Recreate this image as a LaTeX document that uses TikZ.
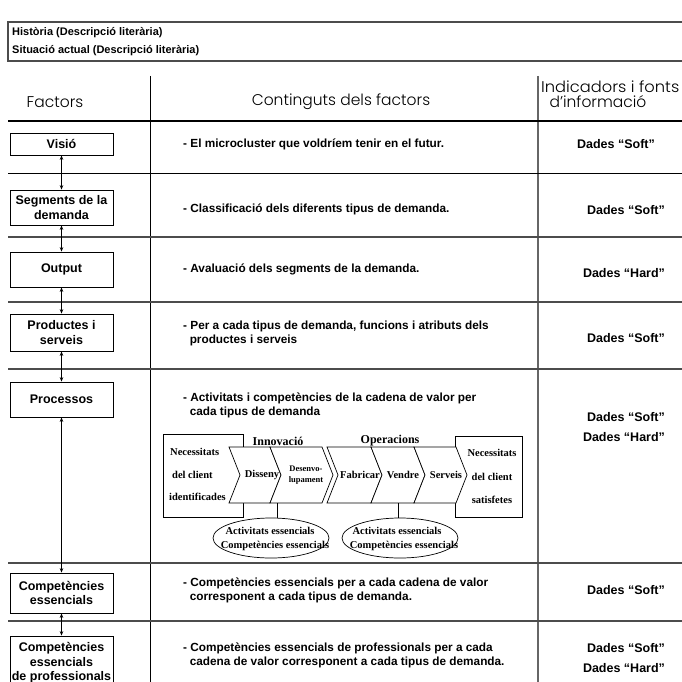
\documentclass[tikz,border=0pt]{standalone}
\usepackage{fontspec}
\setmainfont{Liberation Sans}
\newfontfamily\chainfont{Liberation Serif}
\newfontfamily\hdrfont{Poppins Light}
\usetikzlibrary{arrows.meta,shapes.geometric}
\begin{document}
\begin{tikzpicture}[x=1pt,y=-1pt,
  sepline/.style={line width=1.3pt, draw=black!70},
  fbox/.style={draw, line width=0.8pt, minimum width=103pt, align=center,
    font=\bfseries\fontsize{12.5}{14.5}\selectfont, inner sep=1pt},
  content/.style={anchor=west, align=left, inner sep=0pt,
    font=\bfseries\fontsize{11.8}{14}\selectfont},
  dades/.style={inner sep=0pt, font=\bfseries\fontsize{12.5}{14}\selectfont},
  hdr/.style={inner sep=0pt, font=\hdrfont\fontsize{15.5}{17}\selectfont},
  dar/.style={{Stealth[length=4.5pt,width=3.5pt]}-{Stealth[length=4.5pt,width=3.5pt]}, line width=0.6pt},
  chev/.style={draw, fill=white, line width=0.7pt},
  cl/.style={inner sep=0pt, font=\chainfont\bfseries\fontsize{10.5}{12}\selectfont},
  cls/.style={inner sep=0pt, align=center, font=\chainfont\bfseries\fontsize{8.5}{11}\selectfont},
  grp/.style={inner sep=0pt, font=\chainfont\bfseries\fontsize{12}{14}\selectfont},
  ell/.style={draw, ellipse, line width=0.7pt, minimum width=116pt, minimum height=40pt, inner sep=0pt}
]
\useasboundingbox (0,0) rectangle (682,682);

% header box
\draw[line width=1.2pt, draw=black!70] (8,22) rectangle (700,61);
\node[anchor=west, inner sep=0pt, font=\bfseries\fontsize{11}{13}\selectfont] (hist) at (12,33) {Història (Descripció literària)};
\node[anchor=west, inner sep=0pt, font=\bfseries\fontsize{11}{13}\selectfont] (sit) at (12,51) {Situació actual (Descripció literària)};

% column lines
\draw[line width=0.8pt] (150,76) -- (150,690);
\draw[line width=1.3pt, draw=black!60] (538,76) -- (538,690);
\draw[line width=2.6pt] (8,121) -- (690,121);

% column headers
\node[hdr] (hfac) at (55,102) {Factors};
\node[hdr] (hcon) at (341,102) {Continguts dels factors};
\node[hdr, anchor=west] (hind) at (541,87) {\scalebox{1.05}[1]{Indicadors i fonts}};
\node[hdr] (hinf) at (598,102) {d’informació};

% row separators
\draw[line width=0.9pt] (8,173) -- (690,173);
\foreach \yy in {237,302,369,563,621}
  \draw[sepline] (8,\yy) -- (690,\yy);

% factor boxes
\node[fbox, minimum height=22pt] (visio) at (61.5,144) {Visió};
\node[fbox, minimum height=35pt] (seg) at (61.5,207.5) {Segments de la\\demanda};
\node[fbox, minimum height=35pt] (out) at (61.5,269.5) {Output};
\node[fbox, minimum height=37pt] (prod) at (61.5,332.5) {Productes i\\serveis};
\node[fbox, minimum height=35pt] (proc) at (61.5,399.5) {Processos};
\node[fbox, minimum height=40pt] (comp) at (61.5,593) {Competències\\essencials};
\node[fbox, minimum height=54pt] (prof) at (61.5,663) {Competències\\essencials\\de professionals};

\draw[dar] (visio) -- (seg);
\draw[dar] (seg) -- (out);
\draw[dar] (out) -- (prod);
\draw[dar] (prod) -- (proc);
\draw[dar] (proc) -- (comp);
\draw[dar] (comp) -- (prof);

% contents
\node[content] (t1) at (183,144) {- El microcluster que voldríem tenir en el futur.};
\node[content] (t2) at (183,209) {- Classificació dels diferents tipus de demanda.};
\node[content] (t3) at (183,269) {- Avaluació dels segments de la demanda.};
\node[content] (t4) at (183,333) {- Per a cada tipus de demanda, funcions i atributs dels\\\ \ productes i serveis};
\node[content] (t5) at (183,405) {- Activitats i competències de la cadena de valor per\\\ \ cada tipus de demanda};
\node[content] (t6) at (183,590) {- Competències essencials per a cada cadena de valor\\\ \ corresponent a cada tipus de demanda.};
\node[content] (t7) at (183,655) {- Competències essencials de professionals per a cada\\\ \ cadena de valor corresponent a cada tipus de demanda.};

% dades
\node[dades] (d1) at (616,144) {Dades “Soft”};
\node[dades] (d2) at (626,210) {Dades “Soft”};
\node[dades] (d3) at (624,273) {Dades “Hard”};
\node[dades] (d4) at (626,338) {Dades “Soft”};
\node[dades] (d5) at (626,417) {Dades “Soft”};
\node[dades] (d6) at (624,437) {Dades “Hard”};
\node[dades] (d7) at (626,590) {Dades “Soft”};
\node[dades] (d8) at (626,648) {Dades “Soft”};
\node[dades] (d9) at (624,668) {Dades “Hard”};

% value chain
\node[draw, line width=0.8pt, minimum width=80pt, minimum height=83pt, inner sep=0pt] (needL) at (203,475.5) {};
\node[draw, line width=0.8pt, minimum width=67pt, minimum height=81pt, inner sep=0pt] (needR) at (488.5,477) {};

\filldraw[chev] (229,447) -- (270,447) -- (281,475) -- (270,503) -- (229,503) -- (240,475) -- cycle;
\filldraw[chev] (270,447) -- (322,447) -- (333,475) -- (322,503) -- (270,503) -- (281,475) -- cycle;
\filldraw[chev] (327,447) -- (371,447) -- (382,475) -- (371,503) -- (327,503) -- (338,475) -- cycle;
\filldraw[chev] (371,447) -- (414,447) -- (425,475) -- (414,503) -- (371,503) -- (382,475) -- cycle;
\filldraw[chev] (414,447) -- (456,447) -- (467,475) -- (456,503) -- (414,503) -- (425,475) -- cycle;

\node[cl, anchor=west] (nl1) at (170,452) {Necessitats};
\node[cl, anchor=west] (nl2) at (172,475) {del client};
\node[cl, anchor=west] (nl3) at (169,497) {identificades};
\node[cl] (nr1) at (492,453) {Necessitats};
\node[cl] (nr2) at (492,477) {del client};
\node[cl] (nr3) at (492,500) {satisfetes};

\node[grp, anchor=south] (innov) at (278,446) {Innovació};
\node[grp, anchor=south] (oper) at (390,446) {Operacions};

\node[cl] (dis) at (262,475) {Disseny};
\node[cls] (des) at (306,475) {Desenvo-\\lupament};
\node[cl] (fab) at (360,475) {Fabricar};
\node[cl] (ven) at (403,475) {Vendre};
\node[cl] (ser) at (446,475) {Serveis};

\node[ell] (e1) at (271,538) {};
\node[ell] (e2) at (400,538) {};
\node[cl] (e1a) at (270,531) {Activitats essencials};
\node[cl] (e1b) at (275,546) {Competències essencials};
\node[cl] (e2a) at (397,531) {Activitats essencials};
\node[cl] (e2b) at (404,546) {Competències essencials};

\coordinate (c2b) at (277,503);
\coordinate (c4b) at (398,503);
\draw[line width=0.7pt] (c2b) -- (c2b |- e1.north);
\draw[line width=0.7pt] (c4b) -- (c4b |- e2.north);
\end{tikzpicture}
\end{document}
